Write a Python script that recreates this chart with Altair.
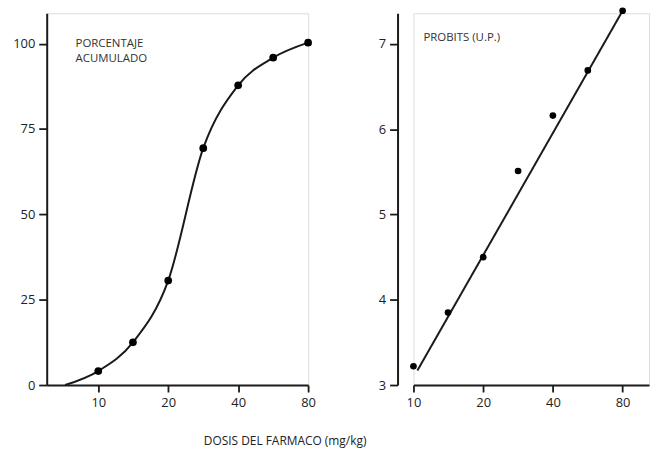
import altair as alt
import pandas as pd

# Dose (mg/kg), log-spaced steps of sqrt(2)
dosis = [10, 14.1, 20, 28.3, 40, 56.6, 80]
# Cumulative percentage of responders
porcentaje = [4.1, 12.5, 30.6, 69.4, 87.8, 95.9, 100.3]
# Same responses expressed in probit units
probits = [3.22, 3.85, 4.50, 5.51, 6.16, 6.69, 7.39]

# Foot of the cumulative curve on the dose axis
curva_inicio = {"dosis": 7.2, "porcentaje": 0}
# End points of the fitted probit line
recta_dosis = [10.4, 80]
recta_probit = [3.17, 7.39]

ticks_dosis = [10, 20, 40, 80]
ticks_pct = [0, 25, 50, 75, 100]
ticks_probit = [3, 4, 5, 6, 7]

puntos = pd.DataFrame({"dosis": dosis, "porcentaje": porcentaje, "probit": probits})
curva = pd.concat(
    [pd.DataFrame([curva_inicio]), puntos[["dosis", "porcentaje"]]], ignore_index=True
)
recta = pd.DataFrame({"dosis": recta_dosis, "probit": recta_probit})

FONT = "Open Sans"
INK = "#1a1a1a"

axis_style = dict(
    grid=False,
    domainColor=INK,
    domainWidth=2,
    tickColor=INK,
    tickWidth=1.8,
    tickSize=7,
    labelFont=FONT,
    labelFontSize=13,
    labelColor="#222222",
    labelFlush=False,
    title=None,
)

# ---- Left panel: cumulative percentage vs dose ----
xl = alt.X(
    "dosis:Q",
    scale=alt.Scale(type="log", domain=[6, 80], nice=False),
    axis=alt.Axis(values=ticks_dosis, labelPadding=5, **axis_style),
)
yl = alt.Y(
    "porcentaje:Q",
    scale=alt.Scale(domain=[0, 108.9], nice=False, zero=False),
    axis=alt.Axis(values=ticks_pct, labelPadding=4, **{**axis_style, "tickSize": 8}),
)

left_curve = alt.Chart(curva).mark_line(
    interpolate="monotone", color=INK, strokeWidth=2, clip=False
).encode(x=xl, y=yl)
left_pts = alt.Chart(puntos).mark_circle(size=60, color="#000000", opacity=1).encode(
    x=xl, y=yl
)
left_label = alt.Chart(pd.DataFrame({"t": ["PORCENTAJE\nACUMULADO"]})).mark_text(
    align="left",
    baseline="middle",
    font=FONT,
    fontSize=11.5,
    color="#333333",
    lineBreak="\n",
    lineHeight=15,
).encode(text="t:N", x=alt.value(29), y=alt.value(31))

left = alt.layer(left_curve, left_pts, left_label).properties(width=263, height=374)

# ---- Right panel: probits vs dose ----
xr = alt.X(
    "dosis:Q",
    scale=alt.Scale(type="log", domain=[10, 104], nice=False),
    axis=alt.Axis(values=ticks_dosis, labelPadding=5, **axis_style),
)
yr = alt.Y(
    "probit:Q",
    scale=alt.Scale(domain=[3, 7.36], nice=False, zero=False),
    axis=alt.Axis(values=ticks_probit, offset=16, labelPadding=4, **{**axis_style, "tickSize": 8}),
)

right_line = alt.Chart(recta).mark_line(color=INK, strokeWidth=2, clip=False).encode(
    x=xr, y=yr
)
right_pts = alt.Chart(puntos).mark_circle(size=45, color="#000000", opacity=1).encode(
    x=xr, y=yr
)
right_label = alt.Chart(pd.DataFrame({"t": ["PROBITS (U.P.)"]})).mark_text(
    align="left", baseline="middle", font=FONT, fontSize=11.5, color="#333333"
).encode(text="t:N", x=alt.value(10), y=alt.value(25))

right = alt.layer(right_line, right_pts, right_label).properties(width=237, height=374)

chart = (
    alt.hconcat(left, right, spacing=62)
    .properties(
        title=alt.TitleParams(
            "DOSIS DEL FARMACO (mg/kg)",
            orient="bottom",
            anchor="middle",
            font=FONT,
            fontSize=12,
            fontWeight="normal",
            color="#222222",
            offset=26,
            dx=-46,
        ),
        padding={"left": 12, "top": 4, "right": 0, "bottom": 5},
    )
    .configure_view(stroke=None)
    .configure(background="white")
)

chart.save("out.html", embed_options={"renderer": "svg", "actions": False})
